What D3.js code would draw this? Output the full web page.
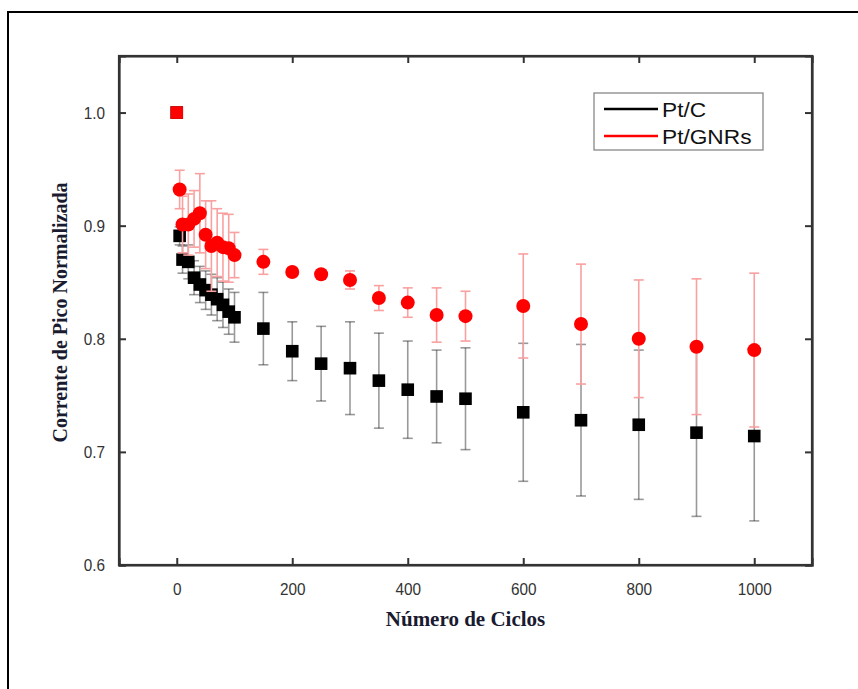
<!DOCTYPE html>
<html><head><meta charset="utf-8">
<script src="https://cdn.jsdelivr.net/npm/d3@7"></script>
<style>html,body{margin:0;padding:0;background:#fff;}svg{display:block;}</style>
</head><body>
<svg id="chart" width="858" height="689"></svg>
<script>
const cycles = [0, 5, 10, 20, 30, 40, 50, 60, 70, 80, 90, 100, 150, 200, 250, 300, 350, 400, 450, 500, 600, 700, 800, 900, 1000];
const ptC = [1.0, 0.891, 0.870, 0.868, 0.854, 0.848, 0.843, 0.839, 0.835, 0.830, 0.824, 0.819, 0.809, 0.789, 0.778, 0.774, 0.763, 0.755, 0.749, 0.747, 0.735, 0.728, 0.724, 0.717, 0.714];
const ptCErr = [0, 0.008, 0.012, 0.015, 0.015, 0.016, 0.017, 0.018, 0.019, 0.020, 0.020, 0.022, 0.032, 0.026, 0.033, 0.041, 0.042, 0.043, 0.041, 0.045, 0.061, 0.067, 0.066, 0.074, 0.075];
const ptGNR = [1.0, 0.932, 0.901, 0.901, 0.906, 0.911, 0.892, 0.882, 0.885, 0.881, 0.880, 0.874, 0.868, 0.859, 0.857, 0.852, 0.836, 0.832, 0.821, 0.820, 0.829, 0.813, 0.800, 0.793, 0.790];
const ptGNRErr = [0, 0.017, 0.025, 0.027, 0.025, 0.035, 0.030, 0.040, 0.030, 0.030, 0.030, 0.020, 0.011, 0.004, 0.004, 0.008, 0.011, 0.013, 0.024, 0.022, 0.046, 0.053, 0.052, 0.060, 0.068];
const xTicks = [0, 200, 400, 600, 800, 1000];
const yTicks = [0.6, 0.7, 0.8, 0.9, 1.0];
const seriesNames = ["Pt/C", "Pt/GNRs"];
const xTitle = "Número de Ciclos";
const yTitle = "Corrente de Pico Normalizada";

const svg = d3.select("#chart");
const L = 119, R = 812, T = 56, B = 565;
const x = d3.scaleLinear().domain([-100, 1100]).range([L, R]);
const y = d3.scaleLinear().domain([0.6, 1.05]).range([B, T]);

// outer frame
svg.append("rect").attr("x", 8).attr("y", 12).attr("width", 900).attr("height", 720)
  .attr("fill", "#fff").attr("stroke", "#000").attr("stroke-width", 2);

const axisColor = "#333";
const gB = svg.append("g").attr("transform", `translate(0,${B})`)
  .call(d3.axisBottom(x).tickValues(xTicks).tickSize(-7).tickPadding(18).tickFormat(d3.format("d")));
const gT = svg.append("g").attr("transform", `translate(0,${T})`)
  .call(d3.axisTop(x).tickValues(xTicks).tickSize(-7).tickFormat(""));
const gL = svg.append("g").attr("transform", `translate(${L},0)`)
  .call(d3.axisLeft(y).tickValues(yTicks).tickSize(-7).tickPadding(14).tickFormat(d3.format(".1f")));
const gR = svg.append("g").attr("transform", `translate(${R},0)`)
  .call(d3.axisRight(y).tickValues(yTicks).tickSize(-7).tickFormat(""));
[gB, gT, gL, gR].forEach(g => {
  g.select(".domain").attr("stroke", axisColor).attr("stroke-width", 2.2);
  g.selectAll(".tick line").attr("stroke", axisColor).attr("stroke-width", 2);
  g.selectAll(".tick text").attr("fill", "#333").attr("font-family", "Liberation Sans, Arial, sans-serif").attr("font-size", 17);
});
svg.selectAll(".tick text").each(function() {
  const w = this.getComputedTextLength();
  d3.select(this).attr("textLength", w * 0.9).attr("lengthAdjust", "spacingAndGlyphs");
});
svg.append("rect").attr("x", L).attr("y", T).attr("width", R - L).attr("height", B - T)
  .attr("fill", "none").attr("stroke", axisColor).attr("stroke-width", 2.2);

const series = [
  { name: seriesNames[0], vals: ptC, err: ptCErr, color: "#000", barColor: "rgba(0,0,0,0.4)", shape: "square" },
  { name: seriesNames[1], vals: ptGNR, err: ptGNRErr, color: "#ff0000", barColor: "#f9a0a0", shape: "circle" }
];
const capW = 5;
series.forEach(s => {
  const pts = cycles.map((c, i) => ({ c, v: s.vals[i], e: s.err[i], i }));
  const g = svg.append("g");
  const eb = g.append("g").attr("stroke", s.barColor).attr("stroke-width", 1.6).attr("fill", "none");
  pts.filter(d => d.e > 0).forEach(d => {
    const cx = x(d.c), y1 = y(d.v + d.e), y2 = y(d.v - d.e);
    eb.append("line").attr("x1", cx).attr("x2", cx).attr("y1", y1).attr("y2", y2);
    eb.append("line").attr("x1", cx - capW).attr("x2", cx + capW).attr("y1", y1).attr("y2", y1);
    eb.append("line").attr("x1", cx - capW).attr("x2", cx + capW).attr("y1", y2).attr("y2", y2);
  });
  pts.forEach(d => {
    if (s.shape === "square" || d.i === 0) {
      g.append("rect").attr("x", x(d.c) - 6.3).attr("y", y(d.v) - 6.3).attr("width", 12.6).attr("height", 12.6)
        .attr("fill", s.color);
    } else {
      g.append("circle").attr("cx", x(d.c)).attr("cy", y(d.v)).attr("r", 7).attr("fill", s.color);
    }
  });
});

// legend
const lg = svg.append("g");
lg.append("rect").attr("x", 594).attr("y", 93).attr("width", 169).attr("height", 57)
  .attr("fill", "#fff").attr("stroke", "#888").attr("stroke-width", 1.3);
series.forEach((s, i) => {
  const ly = 109 + i * 27;
  lg.append("line").attr("x1", 604).attr("x2", 658).attr("y1", ly).attr("y2", ly)
    .attr("stroke", s.color).attr("stroke-width", 2.4);
  const t = lg.append("text").attr("x", 662).attr("y", ly).attr("dy", "0.36em")
    .attr("font-family", "Liberation Sans, Arial, sans-serif").attr("font-size", 21).attr("fill", "#111")
    .text(s.name);
  const w = t.node().getComputedTextLength();
  t.attr("textLength", w * 1.08).attr("lengthAdjust", "spacingAndGlyphs");
});

// axis titles
svg.append("text").attr("x", (L + R) / 2).attr("y", 626).attr("text-anchor", "middle")
  .attr("font-family", "Liberation Serif, Times New Roman, serif").attr("font-weight", "bold")
  .attr("font-size", 21).attr("fill", "#1a1a30").text(xTitle);
svg.append("text").attr("transform", `translate(67,${(T + B) / 2 + 2}) rotate(-90)`).attr("text-anchor", "middle")
  .attr("font-family", "Liberation Serif, Times New Roman, serif").attr("font-weight", "bold")
  .attr("font-size", 20).attr("fill", "#1a1a30").text(yTitle);
</script>
</body></html>
